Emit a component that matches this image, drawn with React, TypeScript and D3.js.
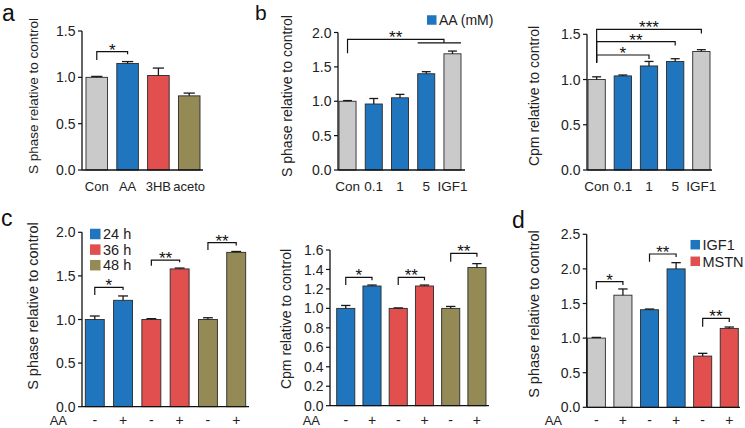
import React from "react";
import * as d3 from "d3";

const FONT = "'Liberation Sans', Arial, Helvetica, sans-serif";
const GRAY = "#cacaca";
const BLUE = "#1f76bf";
const RED = "#e14f4f";
const OLIVE = "#948a55";

// ---- panel a ----
const aCategories = ["Con", "AA", "3HB", "aceto"];
const aValues = [1.0, 1.15, 1.02, 0.8];
const aErrors = [0.01, 0.02, 0.08, 0.03];
const aColors = [GRAY, BLUE, RED, OLIVE];
const aTicks = [0, 0.5, 1.0, 1.5];

// ---- panel b ----
const bCategories = ["Con", "0.1", "1", "5", "IGF1"];
const bColors = [GRAY, BLUE, BLUE, BLUE, GRAY];
const bSValues = [1.0, 0.96, 1.05, 1.4, 1.69];
const bSErrors = [0.01, 0.08, 0.05, 0.03, 0.04];
const bSTicks = [0, 0.5, 1.0, 1.5, 2.0];
const bCpmValues = [1.0, 1.04, 1.15, 1.2, 1.31];
const bCpmErrors = [0.03, 0.01, 0.05, 0.03, 0.02];
const bCpmTicks = [0, 0.5, 1.0, 1.5];
const bLegend = ["AA (mM)"];

// ---- panel c ----
const cAA = ["-", "+", "-", "+", "-", "+"];
const cColors = [BLUE, BLUE, RED, RED, OLIVE, OLIVE];
const cGroups = ["24 h", "36 h", "48 h"];
const cGroupColors = [BLUE, RED, OLIVE];
const cSValues = [1.0, 1.22, 1.0, 1.58, 1.0, 1.77];
const cSErrors = [0.04, 0.05, 0.01, 0.01, 0.02, 0.01];
const cSTicks = [0, 0.5, 1.0, 1.5, 2.0];
const cCpmValues = [1.0, 1.23, 1.0, 1.23, 1.0, 1.42];
const cCpmErrors = [0.03, 0.01, 0.005, 0.01, 0.02, 0.04];
const cCpmTicks = [0, 0.2, 0.4, 0.6, 0.8, 1.0, 1.2, 1.4, 1.6];

// ---- panel d ----
const dAA = ["-", "+", "-", "+", "-", "+"];
const dColors = [GRAY, GRAY, BLUE, BLUE, RED, RED];
const dValues = [1.0, 1.62, 1.41, 2.0, 0.74, 1.14];
const dErrors = [0.01, 0.09, 0.01, 0.09, 0.04, 0.02];
const dTicks = [0, 0.5, 1.0, 1.5, 2.0, 2.5];
const dLegend = ["IGF1", "MSTN"];
const dLegendColors = [BLUE, RED];

type Bracket = { from: number; to: number; top: number; left: number; right: number; label: string; toStart?: boolean };
type Span = { from: number; to: number; at: number };

const aBrackets: Bracket[] = [{ from: 0, to: 1, top: 1.277, left: 1.187, right: 1.25, label: "*" }];
const bSBrackets: Bracket[] = [{ from: 0, to: 4, top: 1.9, left: 1.7, right: 1.85, label: "**", toStart: true }];
const bSSpans: Span[] = [{ from: 3, to: 4, at: 1.85 }];
const bCpmBrackets: Bracket[] = [
  { from: 0, to: 4, top: 1.555, left: 1.186, right: 1.51, label: "***" },
  { from: 0, to: 3, top: 1.418, left: 1.186, right: 1.376, label: "**" },
  { from: 0, to: 2, top: 1.271, left: 1.186, right: 1.227, label: "*" },
];
const cSBrackets: Bracket[] = [
  { from: 0, to: 1, top: 1.369, left: 1.281, right: 1.338, label: "*" },
  { from: 2, to: 3, top: 1.682, left: 1.617, right: 1.656, label: "**" },
  { from: 4, to: 5, top: 1.881, left: 1.797, right: 1.85, label: "**" },
];
const cCpmBrackets: Bracket[] = [
  { from: 0, to: 1, top: 1.319, left: 1.24, right: 1.29, label: "*" },
  { from: 2, to: 3, top: 1.319, left: 1.24, right: 1.29, label: "**" },
  { from: 4, to: 5, top: 1.566, left: 1.48, right: 1.53, label: "**" },
];
const dBrackets: Bracket[] = [
  { from: 0, to: 1, top: 1.815, left: 1.705, right: 1.767, label: "*" },
  { from: 2, to: 3, top: 2.215, left: 2.104, right: 2.172, label: "**" },
  { from: 4, to: 5, top: 1.286, left: 1.165, right: 1.233, label: "**" },
];

type Frame = {
  axisX: number; axisEnd: number; barStart: number; barEnd: number; padInner: number;
  y0: number; yTop: number; yMax: number;
};

type PanelProps = {
  frame: Frame;
  labels: string[];
  values: number[];
  errors: number[];
  colors: string[];
  ticks: number[];
  title: string;
  titleX: number;
  titleY: number;
  titleSize: number;
  brackets: Bracket[];
  spans?: Span[];
  labelY: number;
  labelSize: number;
  aaX?: number;
};

function BarPanel(p: PanelProps) {
  const f = p.frame;
  const x = d3
    .scaleBand<string>()
    .domain(p.labels.map((_, i) => String(i)))
    .range([f.barStart, f.barEnd])
    .paddingInner(f.padInner)
    .paddingOuter(0);
  const y = d3.scaleLinear().domain([0, f.yMax]).range([f.y0, f.yTop]);
  const bw = x.bandwidth();
  const cx = (i: number) => (x(String(i)) as number) + bw / 2;
  const fmt = d3.format(".1f");
  const cap = bw * 0.26;
  return (
    <g>
      {p.values.map((v, i) => (
        <rect key={"b" + i} x={x(String(i))} y={y(v)} width={bw} height={y(0) - y(v)}
          fill={p.colors[i]} stroke="#2a2a2a" strokeWidth={0.9} />
      ))}
      {p.values.map((v, i) => (
        <g key={"e" + i} stroke="#1a1a1a" strokeWidth={1.3}>
          <line x1={cx(i)} x2={cx(i)} y1={y(v)} y2={y(v + p.errors[i])} />
          <line x1={cx(i) - cap} x2={cx(i) + cap} y1={y(v + p.errors[i])} y2={y(v + p.errors[i])} />
        </g>
      ))}
      <line x1={f.axisX} x2={f.axisX} y1={y(f.yMax)} y2={f.y0} stroke="#111" strokeWidth={1.3} />
      <line x1={f.axisX} x2={f.axisEnd} y1={f.y0} y2={f.y0} stroke="#111" strokeWidth={1.3} />
      {p.ticks.map((t) => (
        <g key={"t" + t}>
          <line x1={f.axisX - 4} x2={f.axisX} y1={y(t)} y2={y(t)} stroke="#111" strokeWidth={1.2} />
          <text x={f.axisX - 6.5} y={y(t)} dy="0.36em" textAnchor="end" fontSize={14} fill="#222" fontFamily={FONT}>
            {fmt(t)}
          </text>
        </g>
      ))}
      {p.labels.map((l, i) => (
        <text key={"l" + i} x={cx(i)} y={p.labelY} textAnchor="middle" fontSize={p.labelSize} fill="#222" fontFamily={FONT}>
          {l}
        </text>
      ))}
      {p.aaX !== undefined && (
        <text x={p.aaX} y={p.labelY} textAnchor="end" fontSize={13} fill="#222" fontFamily={FONT}>AA</text>
      )}
      {p.brackets.map((b, i) => {
        const x1 = cx(b.from);
        const x2 = b.toStart ? (x(String(b.to)) as number) : cx(b.to);
        return (
          <g key={"k" + i}>
            <path d={`M${x1},${y(b.left)}V${y(b.top)}H${x2}V${y(b.right)}`} fill="none" stroke="#111" strokeWidth={1.2} />
            <text x={(x1 + x2) / 2} y={y(b.top) + 4} textAnchor="middle" fontSize={17} fill="#111" fontFamily={FONT}>
              {b.label}
            </text>
          </g>
        );
      })}
      {(p.spans || []).map((s, i) => (
        <line key={"s" + i} x1={x(String(s.from))} x2={(x(String(s.to)) as number) + bw} y1={y(s.at)} y2={y(s.at)}
          stroke="#111" strokeWidth={1.2} />
      ))}
      <text transform={`translate(${p.titleX},${p.titleY}) rotate(-90)`} dy="0.35em" textAnchor="middle"
        fontSize={p.titleSize} fill="#222" fontFamily={FONT}>
        {p.title}
      </text>
    </g>
  );
}

function Legend({ items, colors, x, y, step, size, fontSize }: { items: string[]; colors: string[]; x: number; y: number; step: number; size: number; fontSize: number }) {
  return (
    <g>
      {items.map((it, i) => (
        <g key={it}>
          <rect x={x} y={y + i * step - size / 2} width={size} height={size} fill={colors[i]} />
          <text x={x + size + 2.5} y={y + i * step} dy="0.36em" fontSize={fontSize} fill="#222" fontFamily={FONT}>{it}</text>
        </g>
      ))}
    </g>
  );
}

export default function App() {
  const S = "S phase relative to control";
  const C = "Cpm relative to control";
  return (
    <svg width={745} height={428} style={{ position: "absolute", left: 0, top: 0, background: "#fff" }}>
      <rect width={745} height={428} fill="#fff" />
      {/* panel labels */}
      <text x={2} y={21} fontSize={23} fontFamily={FONT} fill="#111">a</text>
      <text x={255} y={20} fontSize={21} fontFamily={FONT} fill="#111">b</text>
      <text x={1} y={226} fontSize={23} fontFamily={FONT} fill="#111">c</text>
      <text x={512} y={228} fontSize={23} fontFamily={FONT} fill="#111">d</text>

      <BarPanel
        frame={{ axisX: 82, axisEnd: 203, barStart: 86, barEnd: 200, padInner: 0.3, y0: 170, yTop: 31, yMax: 1.5 }}
        labels={aCategories} values={aValues} errors={aErrors} colors={aColors} ticks={aTicks}
        title={S} titleX={33} titleY={96} titleSize={13.5} brackets={aBrackets} labelY={191} labelSize={13}
      />
      <BarPanel
        frame={{ axisX: 338, axisEnd: 465, barStart: 339, barEnd: 461, padInner: 0.35, y0: 170, yTop: 32.5, yMax: 2.0 }}
        labels={bCategories} values={bSValues} errors={bSErrors} colors={bColors} ticks={bSTicks}
        title={S} titleX={287} titleY={96} titleSize={14} brackets={bSBrackets} spans={bSSpans} labelY={191} labelSize={13.5}
      />
      <Legend items={bLegend} colors={[BLUE]} x={427} y={20} step={16} size={9.5} fontSize={14} />
      <BarPanel
        frame={{ axisX: 587, axisEnd: 712, barStart: 588, barEnd: 710, padInner: 0.34, y0: 170, yTop: 34.3, yMax: 1.5 }}
        labels={bCategories} values={bCpmValues} errors={bCpmErrors} colors={bColors} ticks={bCpmTicks}
        title={C} titleX={534} titleY={96} titleSize={14} brackets={bCpmBrackets} labelY={191} labelSize={13.5}
      />
      <BarPanel
        frame={{ axisX: 82, axisEnd: 249, barStart: 85.3, barEnd: 245.7, padInner: 0.33, y0: 406.7, yTop: 232.3, yMax: 2.0 }}
        labels={cAA} values={cSValues} errors={cSErrors} colors={cColors} ticks={cSTicks}
        title={S} titleX={32.5} titleY={306} titleSize={14.5} brackets={cSBrackets} labelY={425} labelSize={14} aaX={67}
      />
      <Legend items={cGroups} colors={cGroupColors} x={90} y={234} step={15.6} size={10.5} fontSize={14.5} />
      <BarPanel
        frame={{ axisX: 330, axisEnd: 489, barStart: 336.7, barEnd: 486, padInner: 0.31, y0: 405.7, yTop: 250, yMax: 1.6 }}
        labels={cAA} values={cCpmValues} errors={cCpmErrors} colors={cColors} ticks={cCpmTicks}
        title={C} titleX={286} titleY={319} titleSize={14} brackets={cCpmBrackets} labelY={425} labelSize={14} aaX={320}
      />
      <BarPanel
        frame={{ axisX: 586.7, axisEnd: 740, barStart: 587.3, barEnd: 738.3, padInner: 0.32, y0: 407.3, yTop: 234.3, yMax: 2.5 }}
        labels={dAA} values={dValues} errors={dErrors} colors={dColors} ticks={dTicks}
        title={S} titleX={534} titleY={314} titleSize={14.5} brackets={dBrackets} labelY={425} labelSize={14} aaX={562}
      />
      <Legend items={dLegend} colors={dLegendColors} x={690.5} y={244.7} step={16.6} size={9.5} fontSize={14.5} />
    </svg>
  );
}
